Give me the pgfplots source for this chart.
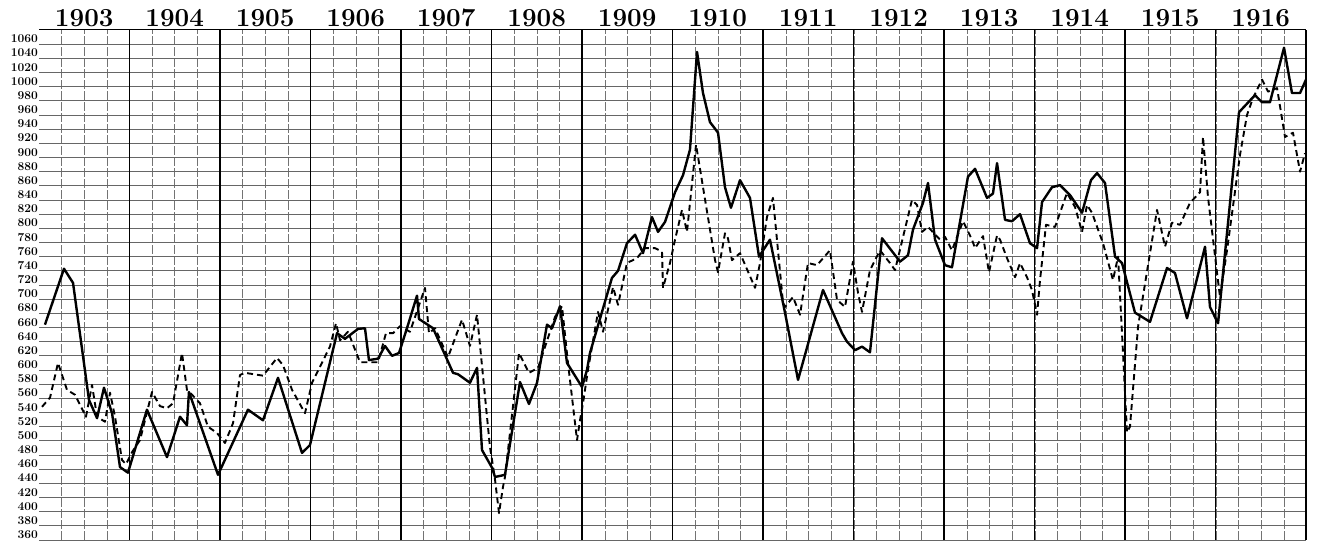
\documentclass[border=0pt]{standalone}
\usepackage{pgfplots}
\pgfplotsset{compat=1.18}
\begin{document}
\begin{tikzpicture}
\path[use as bounding box] (-39pt,-4pt) rectangle (1283pt,540pt);
\begin{axis}[
  at={(0,0)}, anchor=south west,
  scale only axis, width=1267pt, height=510pt,
  xmin=1903, xmax=1917, ymin=360, ymax=1080,
  axis line style={draw=none},
  major tick length=0pt, minor tick length=0pt,
  xtick={1903.5,1904.5,...,1916.5},
  xticklabels={1903,1904,1905,1906,1907,1908,1909,1910,1911,1912,1913,1914,1915,1916},
  xticklabel pos=upper,
  xticklabel style={font=\fontsize{26}{26}\selectfont\bfseries, anchor=south, inner sep=3pt},
  minor xtick={1903.25,1903.5,...,1916.75},
  xminorgrids=true,
  minor grid style={black!55, line width=0.6pt, dash pattern=on 9pt off 2pt},
  extra x ticks={1904,1905,...,1917},
  extra x tick labels={},
  extra x tick style={grid=major, major grid style={black, line width=1.6pt}},
  ytick={360,380,...,1060},
  ymajorgrids=true,
  major grid style={black!60, line width=0.7pt},
  extra y ticks={1080},
  extra y tick labels={},
  extra y tick style={grid=major, major grid style={black, line width=1pt}},
  /pgf/number format/1000 sep={},
  /pgf/number format/assume math mode=true,
  yticklabel style={font=\fontsize{12}{12}\selectfont\bfseries, anchor=south east, inner sep=1pt},
]
% dashed series
\addplot[black, line width=1.9pt, dash pattern=on 6pt off 4pt, line join=round] coordinates {
(1903.033,548) (1903.122,561) (1903.210,610) (1903.309,572) (1903.398,565) (1903.519,534)
(1903.586,579) (1903.641,534) (1903.729,527) (1903.785,568) (1903.840,534) (1903.917,473)
(1903.961,467) (1904.028,484) (1904.116,501) (1904.249,569) (1904.337,549) (1904.414,546)
(1904.481,553) (1904.580,624) (1904.635,572) (1904.691,565) (1904.779,553) (1904.867,520)
(1904.967,511) (1905.055,497) (1905.144,525) (1905.221,593) (1905.276,596) (1905.475,592)
(1905.630,617) (1905.696,607) (1905.796,572) (1905.939,539) (1906.017,582) (1906.215,633)
(1906.282,666) (1906.326,642) (1906.414,654) (1906.547,611) (1906.746,611) (1906.834,652)
(1906.912,652) (1906.989,662) (1907.099,654) (1907.265,716) (1907.309,652) (1907.376,659)
(1907.519,618) (1907.674,671) (1907.762,634) (1907.840,678) (1907.983,491) (1908.006,473)
(1908.039,445) (1908.083,398) (1908.127,435) (1908.149,449) (1908.304,624) (1908.414,596)
(1908.514,603) (1908.702,675) (1908.779,690) (1908.845,610) (1908.945,501) (1908.978,529)
(1909.011,553) (1909.066,600) (1909.177,682) (1909.232,654) (1909.343,717) (1909.398,692)
(1909.497,751) (1909.608,758) (1909.696,772) (1909.807,772) (1909.884,767) (1909.895,716)
(1909.972,751) (1910.028,784) (1910.105,826) (1910.160,795) (1910.260,918) (1910.470,755)
(1910.503,738) (1910.580,793) (1910.613,786) (1910.657,755) (1910.746,765) (1910.912,716)
(1910.967,751) (1911.044,816) (1911.110,843) (1911.221,695) (1911.243,689) (1911.331,703)
(1911.409,678) (1911.497,751) (1911.597,748) (1911.740,769) (1911.818,699) (1911.906,689)
(1911.994,753) (1912.050,709) (1912.094,682) (1912.182,741) (1912.293,769) (1912.403,751)
(1912.459,741) (1912.646,840) (1912.702,833) (1912.757,795) (1912.823,802) (1912.956,784)
(1913.011,788) (1913.088,769) (1913.210,810) (1913.309,784) (1913.343,772) (1913.431,789)
(1913.497,738) (1913.586,790) (1913.619,784) (1913.696,758) (1913.785,731) (1913.840,751)
(1913.917,731) (1913.972,713) (1914.028,678) (1914.061,727) (1914.127,805) (1914.227,802)
(1914.359,850) (1914.448,830) (1914.525,795) (1914.580,833) (1914.635,822) (1914.757,779)
(1914.867,727) (1914.923,760) (1914.978,624) (1915.022,512) (1915.055,520) (1915.144,661)
(1915.276,765) (1915.354,826) (1915.442,774) (1915.519,808) (1915.608,805) (1915.718,836)
(1915.829,851) (1915.862,929) (1915.917,844) (1916.017,737) (1916.050,703) (1916.127,769)
(1916.271,904) (1916.348,960) (1916.414,984) (1916.514,1010) (1916.580,993) (1916.680,998)
(1916.768,929) (1916.856,935) (1916.934,880) (1916.989,906)
};
% solid series
\addplot[black, line width=2.4pt, line join=round] coordinates {
(1903.066,664) (1903.276,743) (1903.376,723) (1903.552,558) (1903.641,532) (1903.718,575)
(1903.807,539) (1903.895,463) (1903.983,455) (1904.193,544) (1904.414,477) (1904.558,534)
(1904.635,522) (1904.657,569) (1904.978,452) (1905.309,544) (1905.475,529) (1905.641,589)
(1905.906,483) (1905.994,494) (1906.293,652) (1906.381,644) (1906.525,658) (1906.602,659)
(1906.646,614) (1906.746,616) (1906.823,634) (1906.901,620) (1906.978,624) (1907.066,659)
(1907.177,705) (1907.199,672) (1907.354,659) (1907.575,596) (1907.630,594) (1907.762,582)
(1907.840,603) (1907.895,487) (1908.006,462) (1908.039,449) (1908.149,452) (1908.315,583)
(1908.414,552) (1908.503,582) (1908.613,664) (1908.669,659) (1908.757,690) (1908.834,610)
(1909.000,576) (1909.055,600) (1909.088,624) (1909.331,730) (1909.398,740) (1909.497,779)
(1909.586,791) (1909.674,765) (1909.773,816) (1909.840,795) (1909.917,809) (1910.028,851)
(1910.116,875) (1910.193,911) (1910.271,1049) (1910.337,991) (1910.414,950) (1910.503,935)
(1910.580,858) (1910.646,829) (1910.746,868) (1910.856,843) (1910.956,760) (1911.077,784)
(1911.243,681) (1911.387,586) (1911.663,713) (1911.873,652) (1911.928,640) (1912.017,628)
(1912.094,633) (1912.182,625) (1912.315,786) (1912.514,753) (1912.602,762) (1912.657,798)
(1912.768,836) (1912.823,864) (1912.901,784) (1913.011,748) (1913.088,745) (1913.265,873)
(1913.343,884) (1913.475,843) (1913.541,849) (1913.586,892) (1913.674,812) (1913.751,810)
(1913.840,820) (1913.950,779) (1914.028,772) (1914.083,837) (1914.193,858) (1914.282,861)
(1914.392,847) (1914.525,822) (1914.624,868) (1914.691,878) (1914.779,864) (1914.890,760)
(1914.967,751) (1915.110,681) (1915.276,668) (1915.464,744) (1915.552,737) (1915.685,673)
(1915.884,774) (1915.939,689) (1916.028,666) (1916.260,964) (1916.436,988) (1916.514,978)
(1916.602,978) (1916.757,1055) (1916.845,991) (1916.934,991) (1917.000,1010)
};
\end{axis}
\end{tikzpicture}
\end{document}
